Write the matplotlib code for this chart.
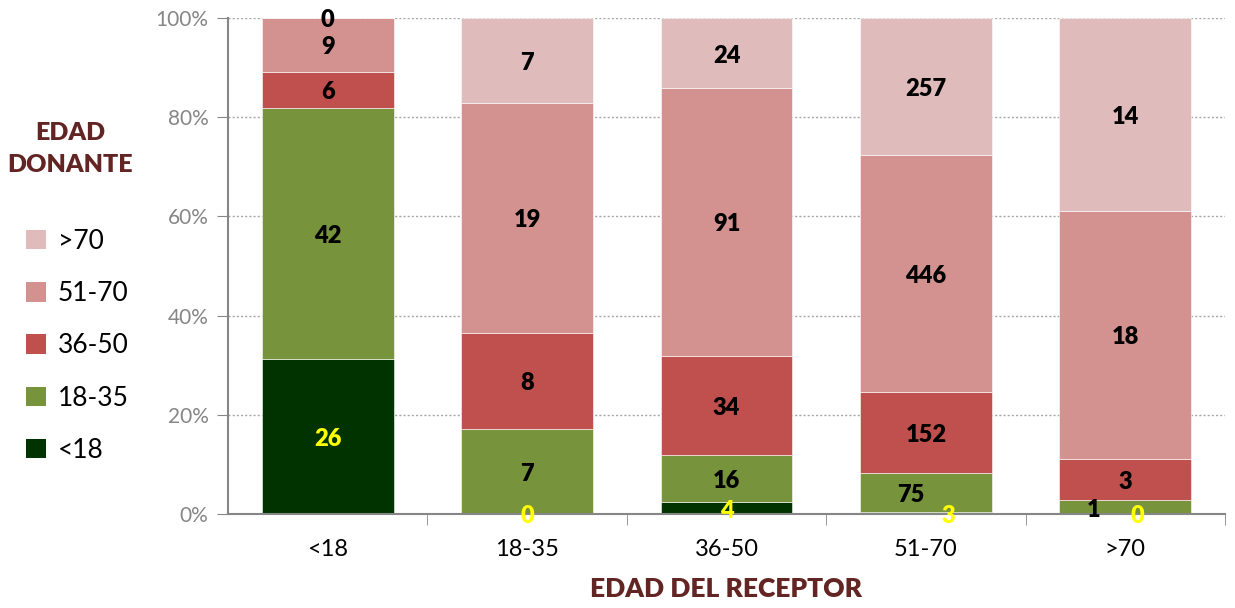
import numpy as np
import matplotlib
matplotlib.use("Agg")
import matplotlib.pyplot as plt
from matplotlib.patches import Patch

plt.rcParams['font.family'] = ['Lato', 'DejaVu Sans']

receptor = ["<18", "18-35", "36-50", "51-70", ">70"]
donante = ["<18", "18-35", "36-50", "51-70", ">70"]
# counts per donor age group (rows) for each receptor age group (columns)
d_lt18 = [26, 0, 4, 3, 0]
d_18_35 = [42, 7, 16, 75, 1]
d_36_50 = [6, 8, 34, 152, 3]
d_51_70 = [9, 19, 91, 446, 18]
d_gt70 = [0, 7, 24, 257, 14]

series = [d_lt18, d_18_35, d_36_50, d_51_70, d_gt70]
colors = ["#003300", "#77933C", "#C0504D", "#D39290", "#E0BBBB"]
label_colors = ["#FFFF00", "black", "black", "black", "black"]
# small manual nudges (x) for crowded labels
x_nudge = {(0, 3): 0.11, (1, 3): -0.075, (1, 4): -0.16, (0, 4): 0.06}

fig = plt.figure(figsize=(12.35, 6.08), dpi=100)
ax = fig.add_axes([228/1235, 1-514/608, 997/1235, 496/608])

counts = np.array(series, dtype=float)
totals = counts.sum(axis=0)
pct = counts / totals * 100
x = np.arange(len(receptor))
bottom = np.zeros(len(receptor))
for i, row in enumerate(pct):
    ax.bar(x, row, 0.66, bottom=bottom, color=colors[i], edgecolor='white', linewidth=0.4, zorder=2)
    for j in range(len(receptor)):
        yc = bottom[j] + row[j] / 2
        ax.text(x[j] + x_nudge.get((i, j), 0), yc - 0.5, str(series[i][j]), ha='center', va='center',
                fontsize=17, fontweight='heavy', color=label_colors[i], zorder=3)
    bottom += row

ax.set_xlim(-0.5, 4.5)
ax.set_ylim(0, 100)
ax.set_yticks(np.arange(0, 101, 20))
ax.set_yticklabels([f"{v}%" for v in range(0, 101, 20)])
ax.set_xticks(x)
ax.set_xticklabels(receptor)
ax.set_xticks(np.arange(0.5, 5, 1), minor=True)
ax.tick_params(axis='x', which='major', length=0, labelsize=17, pad=18)
ax.tick_params(axis='x', which='minor', length=8, color='#868686')
ax.tick_params(axis='y', length=8, color='#868686', labelcolor='#868686', labelsize=15, pad=6)
for v in range(20, 101, 20):
    ax.axhline(v, color='#A6A6A6', linestyle=(0, (1.5, 1.5)), linewidth=1, zorder=1)
for s in ['top', 'right']:
    ax.spines[s].set_visible(False)
for s in ['left', 'bottom']:
    ax.spines[s].set_color('#868686')
    ax.spines[s].set_linewidth(1.5)

ax.set_xlabel("EDAD DEL RECEPTOR", fontsize=19, fontweight='heavy', color='#632523', labelpad=12)

fig.text(70/1235, 1-149/608, "EDAD\nDONANTE", ha='center', va='center', fontsize=18,
         fontweight='heavy', color='#632523', linespacing=1.6)
handles = [Patch(facecolor=colors[i], label=donante[i]) for i in range(4, -1, -1)]
fig.legend(handles=handles, loc='upper left', bbox_to_anchor=(26/1235, 1-229/608), frameon=False,
           fontsize=19, handlelength=0.75, handleheight=0.75, labelspacing=1.03, handletextpad=0.45,
           borderpad=0, borderaxespad=0)

fig.savefig("out.png", dpi=100)
